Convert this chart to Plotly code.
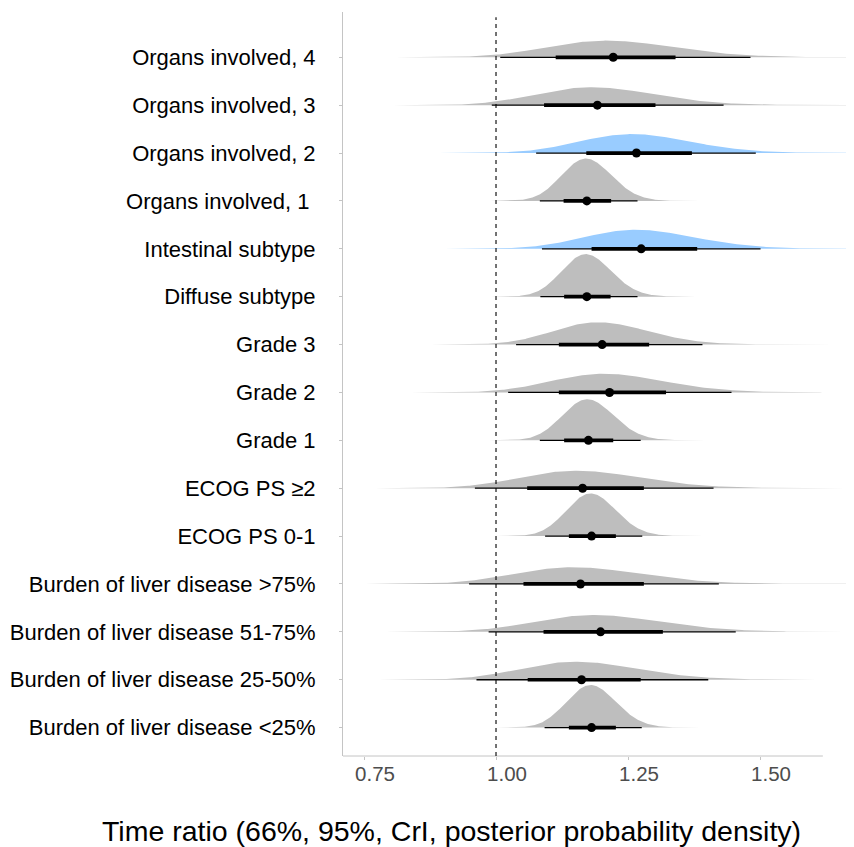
import numpy as np
import plotly.graph_objects as go

# ---- data, listed top to bottom ----
categories = [
    "Organs involved, 4", "Organs involved, 3", "Organs involved, 2",
    "Organs involved, 1\u00a0", "Intestinal subtype", "Diffuse subtype",
    "Grade 3", "Grade 2", "Grade 1", "ECOG PS \u22652", "ECOG PS 0-1",
    "Burden of liver disease >75%", "Burden of liver disease 51-75%",
    "Burden of liver disease 25-50%", "Burden of liver disease <25%",
]
median = [1.222, 1.192, 1.266, 1.172, 1.275, 1.172, 1.201, 1.215, 1.175,
          1.164, 1.181, 1.160, 1.198, 1.162, 1.181]
q66_low = [1.113, 1.091, 1.171, 1.128, 1.181, 1.129, 1.119, 1.119, 1.129,
           1.059, 1.138, 1.052, 1.090, 1.060, 1.138]
q66_high = [1.340, 1.302, 1.371, 1.218, 1.381, 1.217, 1.290, 1.322, 1.222,
            1.280, 1.227, 1.280, 1.316, 1.274, 1.227]
q95_low = [1.008, 0.992, 1.076, 1.083, 1.087, 1.084, 1.038, 1.023, 1.083,
           0.960, 1.093, 0.949, 0.986, 0.963, 1.092]
q95_high = [1.482, 1.431, 1.492, 1.268, 1.501, 1.268, 1.391, 1.446, 1.274,
            1.412, 1.277, 1.422, 1.454, 1.402, 1.276]
highlight = [False, False, True, False, True, False, False, False, False,
             False, False, False, False, False, False]
x_ticks = [0.75, 1.00, 1.25, 1.50]
x_tick_labels = ["0.75", "1.00", "1.25", "1.50"]
reference_line = 1.0

GRAY = "#BEBEBE"
BLUE = "#99CCFF"
n = len(categories)
pos = [n - k for k in range(n)]

# posterior density (log-normal implied by median and 95% interval)
dens = []
for m, lo, hi in zip(median, q95_low, q95_high):
    mu = np.log(m)
    sd = (np.log(hi) - np.log(lo)) / 3.92
    xs = np.exp(np.linspace(mu - 4.2 * sd, mu + 4.2 * sd, 300))
    pdf = np.exp(-0.5 * ((np.log(xs) - mu) / sd) ** 2) / (xs * sd * np.sqrt(2 * np.pi))
    dens.append((xs, pdf))
peak = max(d[1].max() for d in dens)
scale = 0.89 / peak

fig = go.Figure()
for k in range(n):
    xs, pdf = dens[k]
    y0 = pos[k]
    px = np.concatenate([xs, xs[::-1]])
    py = np.concatenate([y0 + pdf * scale, np.full(len(xs), y0)])
    fig.add_trace(go.Scatter(x=px, y=py, fill="toself", mode="lines",
                             line=dict(width=0),
                             fillcolor=BLUE if highlight[k] else GRAY,
                             hoverinfo="skip", showlegend=False))
for k in range(n):
    y0 = pos[k]
    fig.add_trace(go.Scatter(x=[q95_low[k], q95_high[k]], y=[y0, y0], mode="lines",
                             line=dict(color="black", width=1.3), showlegend=False))
    fig.add_trace(go.Scatter(x=[q66_low[k], q66_high[k]], y=[y0, y0], mode="lines",
                             line=dict(color="black", width=3.7), showlegend=False))
    fig.add_trace(go.Scatter(x=[median[k]], y=[y0], mode="markers",
                             marker=dict(color="black", size=9), showlegend=False))

x_left, x_right, x_axis_end = 0.7102, 1.678, 1.619
fig.add_shape(type="line", xref="x", yref="paper", x0=reference_line, x1=reference_line,
              y0=0, y1=0.993, line=dict(color="black", width=1.1, dash="4px,4px"), layer="above")
fig.add_shape(type="line", xref="x", yref="paper", x0=x_left, x1=x_axis_end,
              y0=0, y1=0, line=dict(color="#C4C4C4", width=1), layer="below")

fig.add_annotation(text="Time ratio (66%, 95%, CrI, posterior probability density)",
                   xref="x", yref="paper", x=0.9157, y=0, yshift=-57,
                   xanchor="center", yanchor="top", showarrow=False,
                   font=dict(size=28.5, color="black"))

# the page body adds an 8px offset, so the figure is 8px smaller than the window
fig.update_layout(
    width=846, height=839,
    margin=dict(l=335, r=0, t=4, b=91, autoexpand=False),
    paper_bgcolor="white", plot_bgcolor="white",
    font=dict(family="Liberation Sans, Arial, sans-serif"),
    xaxis=dict(range=[x_left, x_right], tickvals=x_ticks, ticktext=x_tick_labels,
               ticks="outside", ticklen=3, tickcolor="#C4C4C4",
               showline=False, showgrid=False, zeroline=False,
               tickfont=dict(size=20.5, color="#4D4D4D"), ticklabelshift=11,
               ticklabelstandoff=-4),
    yaxis=dict(range=[0.407, 15.946], tickvals=pos, ticktext=categories,
               ticks="outside", ticklen=3, tickcolor="#C4C4C4",
               showline=True, linecolor="#C4C4C4", linewidth=1,
               showgrid=False, zeroline=False,
               tickfont=dict(size=22, color="black"), ticklabelstandoff=19),
)
fig.write_html("out.html")
